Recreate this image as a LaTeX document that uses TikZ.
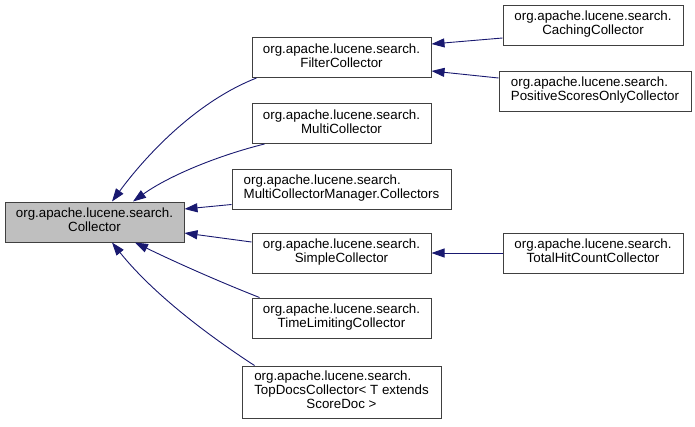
\documentclass[tikz,border=0pt]{standalone}
\usepackage{fontspec}
\setmainfont{Liberation Sans}
\usetikzlibrary{arrows.meta,calc}
\definecolor{edgec}{HTML}{191970}
\definecolor{boxc}{HTML}{404040}
\definecolor{fillc}{HTML}{BFBFBF}
\newcommand{\twolbl}[2]{\begin{tabular}{@{}l@{}}#1\\\multicolumn{1}{@{}c@{}}{#2}\end{tabular}}
\newcommand{\threelbl}[3]{\begin{tabular}{@{}l@{}}#1\\#2\\\multicolumn{1}{@{}c@{}}{#3}\end{tabular}}
\tikzset{
  box/.style={draw=boxc, line width=1pt, fill=white, inner sep=0pt,
    minimum height=40pt, font=\fontsize{13.33}{14}\selectfont},
  inh/.style={draw=edgec, line width=0.9pt, -{Triangle[length=13pt,width=9pt]}}
}
\begin{document}
\begin{tikzpicture}[x=1pt,y=-1pt]
\useasboundingbox (0,0) rectangle (695,426);
\node[box, fill=fillc, minimum width=179pt] (coll) at (94.5,222) {\twolbl{org.apache.lucene.search.}{Collector}};
\node[box, minimum width=179pt] (filter) at (341.5,57.5) {\twolbl{org.apache.lucene.search.}{FilterCollector}};
\node[box, minimum width=179pt] (multi) at (341.5,123.5) {\twolbl{org.apache.lucene.search.}{MultiCollector}};
\node[box, minimum width=219pt] (mcm) at (341.5,189) {\twolbl{org.apache.lucene.search.}{MultiCollectorManager.Collectors}};
\node[box, minimum width=179pt] (simple) at (341.5,253) {\twolbl{org.apache.lucene.search.}{SimpleCollector}};
\node[box, minimum width=179pt] (time) at (341.5,318) {\twolbl{org.apache.lucene.search.}{TimeLimitingCollector}};
\node[box, minimum width=199pt, minimum height=52pt] (topdocs) at (341.5,392) {\threelbl{org.apache.lucene.search.}{TopDocsCollector< T extends}{ScoreDoc >}};
\node[box, minimum width=180pt] (caching) at (593,25) {\twolbl{org.apache.lucene.search.}{CachingCollector}};
\node[box, minimum width=192pt] (positive) at (595,91) {\twolbl{org.apache.lucene.search.}{PositiveScoresOnlyCollector}};
\node[box, minimum width=180pt] (total) at (593,253) {\twolbl{org.apache.lucene.search.}{TotalHitCountCollector}};

\draw[inh] ($(filter.south west)+(5,0)$) .. controls (200,100) and (150,150) .. ($(coll.north)+(17.5,0)$);
\draw[inh] ($(multi.south west)+(13,0)$) .. controls (220,155) and (170,175) .. ($(coll.north)+(38.5,0)$);
\draw[inh] ($(mcm.south west)+(0,-5)$) -- ($(coll.east)+(0,-13)$);
\draw[inh] ($(simple.west)+(0,-11)$) -- ($(coll.east)+(0,11)$);
\draw[inh] ($(time.north west)+(8,0)$) .. controls (220,282) and (175,262) .. ($(coll.south)+(40.5,0)$);
\draw[inh] ($(topdocs.north west)+(13,0)$) .. controls (200,330) and (150,290) .. ($(coll.south)+(17.5,0)$);
\draw[inh] ($(caching.west)+(0,13)$) -- ($(filter.east)+(0,-13.5)$);
\draw[inh] ($(positive.west)+(0,-13)$) -- ($(filter.east)+(0,13.5)$);
\draw[inh] (total.west) -- (simple.east);
\end{tikzpicture}
\end{document}
